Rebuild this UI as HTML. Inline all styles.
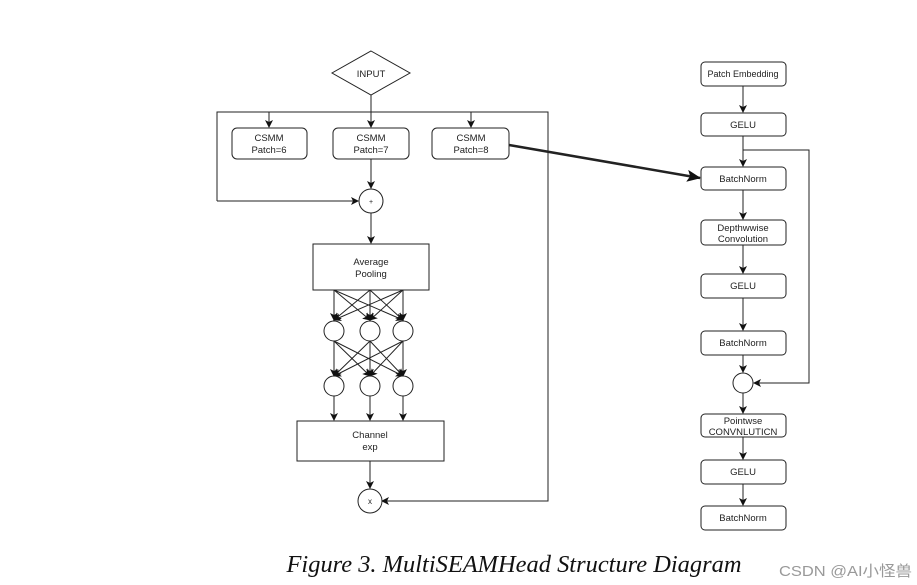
<!DOCTYPE html>
<html><head><style>
body{margin:0;background:#fff;width:917px;height:585px;overflow:hidden;position:relative}
svg{position:absolute;left:0;top:0}
text{font-family:"Liberation Sans",Arial,sans-serif;font-size:9.5px;fill:#222}
</style></head><body>
<svg width="917" height="585" viewBox="0 0 917 585">
<defs>
<marker id="a" markerWidth="8" markerHeight="8" refX="7" refY="4" orient="auto" markerUnits="userSpaceOnUse"><path d="M0,0 L8,4 L0,8 L2,4 z" fill="#111"/></marker>
<marker id="b" markerWidth="14" markerHeight="12" refX="13" refY="6" orient="auto" markerUnits="userSpaceOnUse"><path d="M0,0 L14,6 L0,12 L3,6 z" fill="#111"/></marker>
</defs>
<g stroke="#222" stroke-width="1" fill="none">
<polygon points="371,51 410,73 371,95 332,73" fill="#fff"/>
<line x1="371" y1="95" x2="371" y2="127" marker-end="url(#a)"/>
<polyline points="217,201 217,112 548,112 548,501 382,501" marker-end="url(#a)"/>
<line x1="217" y1="201" x2="358" y2="201" marker-end="url(#a)"/>
<line x1="269" y1="112" x2="269" y2="127" marker-end="url(#a)"/>
<line x1="471" y1="112" x2="471" y2="127" marker-end="url(#a)"/>
<rect x="232" y="128" width="75" height="31" rx="5" fill="#fff"/>
<rect x="333" y="128" width="76" height="31" rx="5" fill="#fff"/>
<rect x="432" y="128" width="77" height="31" rx="5" fill="#fff"/>
<line x1="371" y1="159" x2="371" y2="188" marker-end="url(#a)"/>
<circle cx="371" cy="201" r="12" fill="#fff"/>
<line x1="371" y1="213" x2="371" y2="243" marker-end="url(#a)"/>
<rect x="313" y="244" width="116" height="46" fill="#fff"/>
<line x1="334" y1="290" x2="334" y2="320" marker-end="url(#a)"/>
<line x1="334" y1="290" x2="370" y2="320" marker-end="url(#a)"/>
<line x1="334" y1="290" x2="403" y2="320" marker-end="url(#a)"/>
<line x1="370" y1="290" x2="334" y2="320" marker-end="url(#a)"/>
<line x1="370" y1="290" x2="370" y2="320" marker-end="url(#a)"/>
<line x1="370" y1="290" x2="403" y2="320" marker-end="url(#a)"/>
<line x1="403" y1="290" x2="334" y2="320" marker-end="url(#a)"/>
<line x1="403" y1="290" x2="370" y2="320" marker-end="url(#a)"/>
<line x1="403" y1="290" x2="403" y2="320" marker-end="url(#a)"/>
<circle cx="334" cy="331" r="10" fill="#fff"/><circle cx="370" cy="331" r="10" fill="#fff"/><circle cx="403" cy="331" r="10" fill="#fff"/>
<line x1="334" y1="341" x2="334" y2="376" marker-end="url(#a)"/>
<line x1="334" y1="341" x2="370" y2="376" marker-end="url(#a)"/>
<line x1="334" y1="341" x2="403" y2="376" marker-end="url(#a)"/>
<line x1="370" y1="341" x2="334" y2="376" marker-end="url(#a)"/>
<line x1="370" y1="341" x2="370" y2="376" marker-end="url(#a)"/>
<line x1="370" y1="341" x2="403" y2="376" marker-end="url(#a)"/>
<line x1="403" y1="341" x2="334" y2="376" marker-end="url(#a)"/>
<line x1="403" y1="341" x2="370" y2="376" marker-end="url(#a)"/>
<line x1="403" y1="341" x2="403" y2="376" marker-end="url(#a)"/>
<circle cx="334" cy="386" r="10" fill="#fff"/><circle cx="370" cy="386" r="10" fill="#fff"/><circle cx="403" cy="386" r="10" fill="#fff"/>
<line x1="334" y1="396" x2="334" y2="420" marker-end="url(#a)"/>
<line x1="370" y1="396" x2="370" y2="420" marker-end="url(#a)"/>
<line x1="403" y1="396" x2="403" y2="420" marker-end="url(#a)"/>
<rect x="297" y="421" width="147" height="40" fill="#fff"/>
<line x1="370" y1="461" x2="370" y2="488" marker-end="url(#a)"/>
<circle cx="370" cy="501" r="12" fill="#fff"/>
<line x1="509" y1="145" x2="700" y2="178" stroke-width="2.5" marker-end="url(#b)"/>
<rect x="701" y="62" width="85" height="24" rx="4" fill="#fff"/>
<rect x="701" y="113" width="85" height="23" rx="4" fill="#fff"/>
<rect x="701" y="167" width="85" height="23" rx="4" fill="#fff"/>
<rect x="701" y="220" width="85" height="25" rx="4" fill="#fff"/>
<rect x="701" y="274" width="85" height="24" rx="4" fill="#fff"/>
<rect x="701" y="331" width="85" height="24" rx="4" fill="#fff"/>
<circle cx="743" cy="383" r="10" fill="#fff"/>
<rect x="701" y="414" width="85" height="23" rx="4" fill="#fff"/>
<rect x="701" y="460" width="85" height="24" rx="4" fill="#fff"/>
<rect x="701" y="506" width="85" height="24" rx="4" fill="#fff"/>
<line x1="743" y1="86" x2="743" y2="112" marker-end="url(#a)"/>
<line x1="743" y1="136" x2="743" y2="166" marker-end="url(#a)"/>
<line x1="743" y1="190" x2="743" y2="219" marker-end="url(#a)"/>
<line x1="743" y1="245" x2="743" y2="273" marker-end="url(#a)"/>
<line x1="743" y1="298" x2="743" y2="330" marker-end="url(#a)"/>
<line x1="743" y1="355" x2="743" y2="372" marker-end="url(#a)"/>
<line x1="743" y1="393" x2="743" y2="413" marker-end="url(#a)"/>
<line x1="743" y1="437" x2="743" y2="459" marker-end="url(#a)"/>
<line x1="743" y1="484" x2="743" y2="505" marker-end="url(#a)"/>
<polyline points="743,150 809,150 809,383 754,383" marker-end="url(#a)"/>
</g>
<g text-anchor="middle">
<text x="371" y="77">INPUT</text>
<text x="269" y="141">CSMM</text><text x="269" y="153">Patch=6</text>
<text x="371" y="141">CSMM</text><text x="371" y="153">Patch=7</text>
<text x="471" y="141">CSMM</text><text x="471" y="153">Patch=8</text>
<text x="371" y="204" style="font-size:7px">+</text>
<text x="371" y="265">Average</text><text x="371" y="277">Pooling</text>
<text x="370" y="438">Channel</text><text x="370" y="450">exp</text>
<text x="370" y="504" style="font-size:8px">x</text>
<text x="743" y="77" style="font-size:9px">Patch Embedding</text>
<text x="743" y="128">GELU</text>
<text x="743" y="182">BatchNorm</text>
<text x="743" y="231">Depthwwise</text><text x="743" y="242">Convolution</text>
<text x="743" y="289">GELU</text>
<text x="743" y="346">BatchNorm</text>
<text x="743" y="424">Pointwse</text><text x="743" y="435">CONVNLUTICN</text>
<text x="743" y="475">GELU</text>
<text x="743" y="521">BatchNorm</text>
<text x="514" y="572" textLength="455" lengthAdjust="spacingAndGlyphs" style="font-family:'Liberation Serif',serif;font-style:italic;font-size:24px;fill:#111">Figure 3. MultiSEAMHead Structure Diagram</text>
</g>
<text x="779" y="576" textLength="133" lengthAdjust="spacingAndGlyphs" style="font-family:'Liberation Sans','Noto Sans CJK SC',sans-serif;font-size:15px;fill:#999">CSDN @AI小怪兽</text>
</svg>
</body></html>
